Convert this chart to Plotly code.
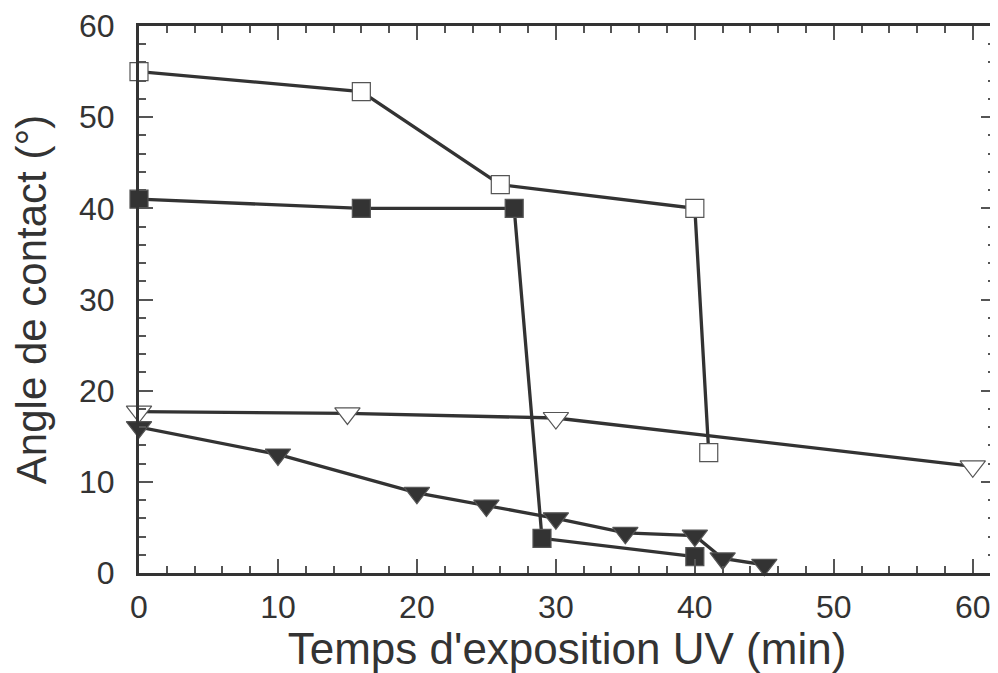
import plotly.graph_objects as go

# Data
x_open_sq = [0, 16, 26, 40, 41]
y_open_sq = [55, 52.8, 42.6, 40, 13.2]
x_fill_sq = [0, 16, 27, 29, 40]
y_fill_sq = [41, 40, 40, 3.8, 1.8]
x_open_tri = [0, 15, 30, 60]
y_open_tri = [17.7, 17.5, 17, 11.7]
x_fill_tri = [0, 10, 20, 25, 30, 35, 40, 42, 45]
y_fill_tri = [16, 13, 8.8, 7.4, 6, 4.4, 4.1, 1.6, 0.9]

x_title = "Temps d'exposition UV (min)"
y_title = "Angle de contact (°)"

DARK = "#333333"
FONT = "Liberation Sans, Arial, Helvetica, sans-serif"

fig = go.Figure()

def add(x, y, symbol, fill, size):
    fig.add_trace(go.Scatter(
        x=x, y=y, mode="lines+markers",
        line=dict(color=DARK, width=3.3),
        marker=dict(symbol=symbol, size=size, color=fill,
                    line=dict(color="#555555", width=1.2)),
        showlegend=False, cliponaxis=False))

add(x_open_sq, y_open_sq, "square", "white", 18)
add(x_fill_sq, y_fill_sq, "square", DARK, 18)
add(x_open_tri, y_open_tri, "triangle-down", "white", 22)
add(x_fill_tri, y_fill_tri, "triangle-down", DARK, 22)

axis_common = dict(
    showline=True, linecolor=DARK, linewidth=3, mirror="ticks",
    ticks="inside", ticklen=14, tickwidth=1.5, tickcolor="#555555",
    showgrid=False, zeroline=False, ticklabeloverflow="allow",
    tickfont=dict(family=FONT, size=32, color=DARK),
    minor=dict(ticks="inside", ticklen=7, tickwidth=1.5, tickcolor="#555555", dtick=2),
)

fig.update_xaxes(range=[0, 61.6], tick0=0, dtick=10, **axis_common,
                 ticklabelstandoff=4,
                 title=dict(text=x_title, font=dict(family=FONT, size=44, color=DARK), standoff=6))
fig.update_yaxes(range=[0, 60], tick0=0, dtick=10, **axis_common,
                 ticklabelstandoff=15,
                 title=dict(text=y_title, font=dict(family=FONT, size=42, color=DARK), standoff=20))

# page body adds an 8px margin; compensate so the plot area matches the reference
fig.update_layout(
    width=990, height=665,
    margin=dict(l=131, r=0, t=16, b=100),
    paper_bgcolor="white", plot_bgcolor="white",
)

fig.write_html("out.html")
